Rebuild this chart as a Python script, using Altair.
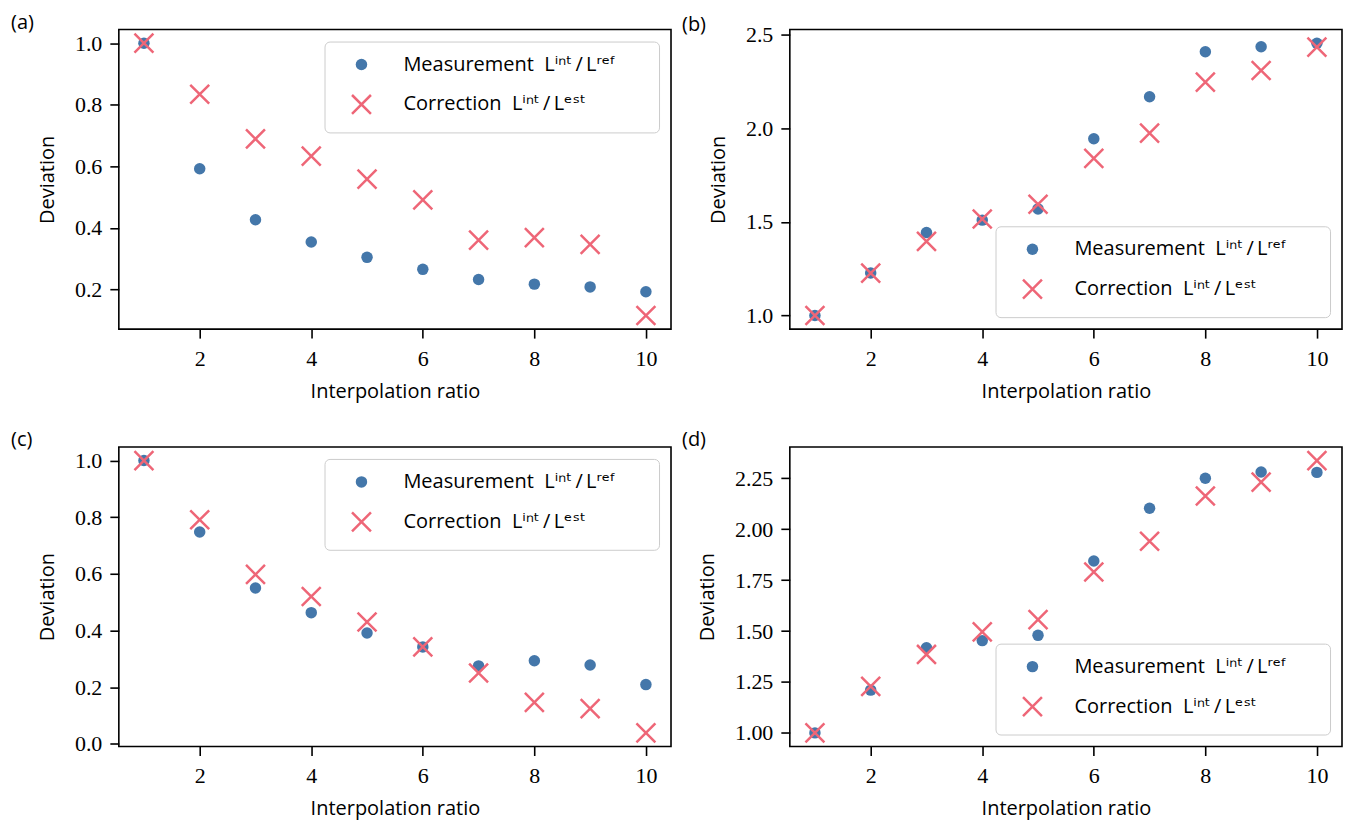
import altair as alt
import pandas as pd

# ---------------- data ----------------
ratios = [1, 2, 3, 4, 5, 6, 7, 8, 9, 10]

a_measurement = [1.0, 0.592, 0.426, 0.354, 0.304, 0.265, 0.232, 0.217, 0.208, 0.192]
a_correction = [1.0, 0.834, 0.689, 0.633, 0.558, 0.491, 0.360, 0.368, 0.346, 0.115]

b_measurement = [1.0, 1.227, 1.444, 1.510, 1.570, 1.945, 2.170, 2.410, 2.437, 2.456]
b_correction = [1.0, 1.227, 1.396, 1.516, 1.595, 1.840, 1.975, 2.248, 2.310, 2.435]

c_measurement = [1.0, 0.748, 0.550, 0.463, 0.391, 0.342, 0.275, 0.293, 0.278, 0.209]
c_correction = [1.0, 0.791, 0.598, 0.520, 0.430, 0.342, 0.250, 0.146, 0.124, 0.0385]

d_measurement = [1.0, 1.210, 1.418, 1.453, 1.479, 1.844, 2.103, 2.250, 2.281, 2.279]
d_correction = [1.0, 1.228, 1.385, 1.496, 1.556, 1.790, 1.941, 2.163, 2.231, 2.337]

panel_labels = ["(a)", "(b)", "(c)", "(d)"]
x_ticks = [2, 4, 6, 8, 10]
a_y_ticks = [0.2, 0.4, 0.6, 0.8, 1.0]
b_y_ticks = [1.0, 1.5, 2.0, 2.5]
c_y_ticks = [0.0, 0.2, 0.4, 0.6, 0.8, 1.0]
d_y_ticks = [1.0, 1.25, 1.5, 1.75, 2.0, 2.25]

NB = "\u00a0"
BLANK = "\u2800"  # blank pattern, keeps the legend box as wide as the reference
series_names = [
    "Measurement" + NB * 2 + "L\u2071\u207f\u1d57\u2009/\u2009L\u02b3\u1d49\u1da0" + BLANK * 2,
    "Correction" + NB * 2 + "L\u2071\u207f\u1d57\u2009/\u2009L\u1d49\u02e2\u1d57",
]
x_title = "Interpolation ratio"
y_title = "Deviation"

# ---------------- styling ----------------
BLUE = "#4477AA"
RED = "#EE6677"
X_PATH = "M-1.65,-1.65L1.65,1.65M-1.65,1.65L1.65,-1.65"
W, H = 553, 300
SANS = "Open Sans"
SERIF = "Liberation Serif, serif"


def margin_domain(vals, frac=0.05):
    lo, hi = min(vals), max(vals)
    m = (hi - lo) * frac
    return [lo - m, hi + m]


def panel(label, meas, corr, yticks, yfmt, legend_orient, title_offset):
    df = pd.DataFrame({
        "ratio": ratios + ratios,
        "value": meas + corr,
        "series": [series_names[0]] * len(ratios) + [series_names[1]] * len(ratios),
        "series_order": [0] * len(ratios) + [1] * len(ratios),
    })
    leg = alt.Legend(
        title=None, orient=legend_orient, offset=12, padding=13, rowPadding=14,
        symbolOffset=14, labelOffset=32, fillColor="rgba(255,255,255,0.8)",
        strokeColor="#cccccc", cornerRadius=5, labelFont=SANS + ", DejaVu Sans",
        labelFontSize=20, labelColor="black", labelLimit=500, symbolSize=132,
        symbolStrokeWidth=2.5, symbolOpacity=1,
    )
    ydom = margin_domain(meas + corr)
    return alt.Chart(df, title=alt.TitleParams(
        text=label, anchor="start", frame="group", dx=-108, offset=title_offset,
        font=SANS, fontSize=20, fontWeight="normal", color="black",
    )).mark_point(size=132, strokeWidth=2.5, opacity=1).encode(
        x=alt.X("ratio:Q", title=x_title,
                scale=alt.Scale(domain=[0.55, 10.45], nice=False, zero=False),
                axis=alt.Axis(values=x_ticks, format="d", labelFont=SERIF,
                              labelFontSize=22, labelPadding=10, titlePadding=12)),
        y=alt.Y("value:Q", title=y_title,
                scale=alt.Scale(domain=ydom, nice=False, zero=False),
                axis=alt.Axis(values=yticks, format=yfmt, labelFont=SERIF,
                              labelFontSize=22, labelPadding=8, titlePadding=17)),
        shape=alt.Shape("series:N", legend=leg,
                        scale=alt.Scale(domain=series_names, range=["circle", X_PATH])),
        fill=alt.Fill("series:N", legend=leg,
                      scale=alt.Scale(domain=series_names, range=[BLUE, "transparent"])),
        stroke=alt.Stroke("series:N", legend=leg,
                          scale=alt.Scale(domain=series_names, range=["transparent", RED])),
        order=alt.Order("series_order:Q"),
    ).properties(width=W, height=H)


pa = panel(panel_labels[0], a_measurement, a_correction, a_y_ticks, ".1f", "top-right", -4)
pb = panel(panel_labels[1], b_measurement, b_correction, b_y_ticks, ".1f", "bottom-right", -11)
pc = panel(panel_labels[2], c_measurement, c_correction, c_y_ticks, ".1f", "top-right", -4)
pd_ = panel(panel_labels[3], d_measurement, d_correction, d_y_ticks, ".2f", "bottom-right", -4)

ind = dict(shape="independent", fill="independent", stroke="independent")
top = alt.hconcat(pa, pb, spacing=9).resolve_scale(**ind).resolve_legend(**ind)
bottom = alt.hconcat(pc, pd_, spacing=9).resolve_scale(**ind).resolve_legend(**ind)

chart = alt.vconcat(top, bottom, spacing=27).resolve_scale(**ind).resolve_legend(**ind).properties(
    padding={"left": 2, "top": 3, "right": 0, "bottom": 0}
).configure_view(
    stroke="black", strokeWidth=1.6
).configure_axis(
    grid=False, domain=False, ticks=True, tickColor="black", tickSize=9, tickWidth=1.6,
    labelColor="black",
    titleFont=SANS, titleFontSize=20, titleFontWeight="normal", titleColor="black",
)

chart.save("out.html", embed_options={"renderer": "svg", "actions": False})
